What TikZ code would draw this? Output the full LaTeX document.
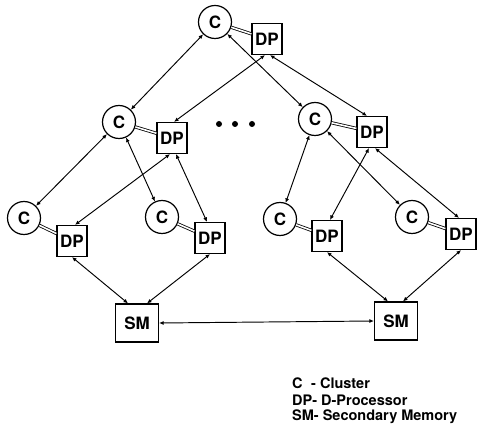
\documentclass[tikz,border=0pt]{standalone}
\usepackage{fontspec}
\setmainfont{TeX Gyre Heros}
\usetikzlibrary{arrows.meta}
\begin{document}
\begin{tikzpicture}[x=1pt,y=-1pt,
  cnode/.style={circle,draw,line width=1.2pt,minimum size=33pt,inner sep=0pt,font=\fontsize{17}{17}\selectfont\bfseries},
  dpnode/.style={rectangle,draw,line width=1.2pt,minimum width=30pt,minimum height=31pt,inner sep=0pt,font=\fontsize{17}{17}\selectfont\bfseries},
  smnode/.style={rectangle,draw,line width=1.2pt,minimum width=43pt,minimum height=38pt,inner sep=0pt,font=\fontsize{17}{17}\selectfont\bfseries},
  link/.style={line width=0.95pt,{Latex[length=4.5pt,width=4pt]}-{Latex[length=4.5pt,width=4pt]}},
  pair/.style={double,double distance=1.6pt,line width=0.8pt},
  legend/.style={anchor=west,inner sep=0pt,font=\fontsize{14.5}{14.5}\selectfont\bfseries},
  ell/.style={circle,fill,inner sep=0pt,minimum size=6pt}]
\useasboundingbox (0,0) rectangle (477,435);
% nodes
\node[cnode] (c1) at (215,22) {C};
\node[dpnode] (d1) at (267,39) {DP};
\node[cnode] (c2) at (119,122) {C};
\node[dpnode] (d2) at (172,138) {DP};
\node[cnode] (c3) at (315,119) {C};
\node[dpnode] (d3) at (372,132) {DP};
\node[cnode] (c4) at (24,218) {C};
\node[dpnode] (d4) at (72,241) {DP};
\node[cnode] (c5) at (162,217) {C};
\node[dpnode] (d5) at (210,238) {DP};
\node[cnode] (c6) at (280,219) {C};
\node[dpnode] (d6) at (327,236) {DP};
\node[cnode] (c7) at (412,217) {C};
\node[dpnode] (d7) at (461,234) {DP};
\node[smnode] (s1) at (137,323) {SM};
\node[smnode] (s2) at (396,321) {SM};
% ellipsis
\node[ell] (e1) at (219,124) {};
\node[ell] (e2) at (235,124) {};
\node[ell] (e3) at (252,124) {};
% C-DP pairs
\foreach \i in {1,...,7} { \draw[pair] (c\i) -- (d\i); }
% cluster tree
\draw[link] (c1) -- (c2);
\draw[link] (c1) -- (c3);
\draw[link] (c2) -- (c4);
\draw[link] (c2) -- (c5);
\draw[link] (c3) -- (c6);
\draw[link] (c3) -- (c7);
% DP tree
\draw[link] ([xshift=-2pt]d1.south) -- ([xshift=2pt]d2.north);
\draw[link] ([xshift=3pt]d1.south) -- ([xshift=-5pt]d3.north);
\draw[link] ([xshift=-2pt]d2.south) -- ([xshift=3pt]d4.north);
\draw[link] ([xshift=4pt]d2.south) -- ([xshift=-3pt]d5.north);
\draw[link] ([xshift=-3pt]d3.south) -- ([xshift=3pt]d6.north);
\draw[link] ([xshift=3pt]d3.south) -- ([xshift=-2pt]d7.north);
% to secondary memories
\draw[link] (d4.south) -- ([xshift=-9pt]s1.north);
\draw[link] (d5.south) -- ([xshift=10pt]s1.north);
\draw[link] (d6.south) -- ([xshift=-8pt]s2.north);
\draw[link] (d7.south) -- ([xshift=7pt]s2.north);
\draw[link] (s1.east) -- (s2.west);
% legend
\node[legend] (l1) at (292,383) {\makebox[19pt][l]{C}- Cluster};
\node[legend] (l2) at (292,400) {DP- D-Processor};
\node[legend] (l3) at (292,417) {SM- Secondary Memory};
\end{tikzpicture}
\end{document}
